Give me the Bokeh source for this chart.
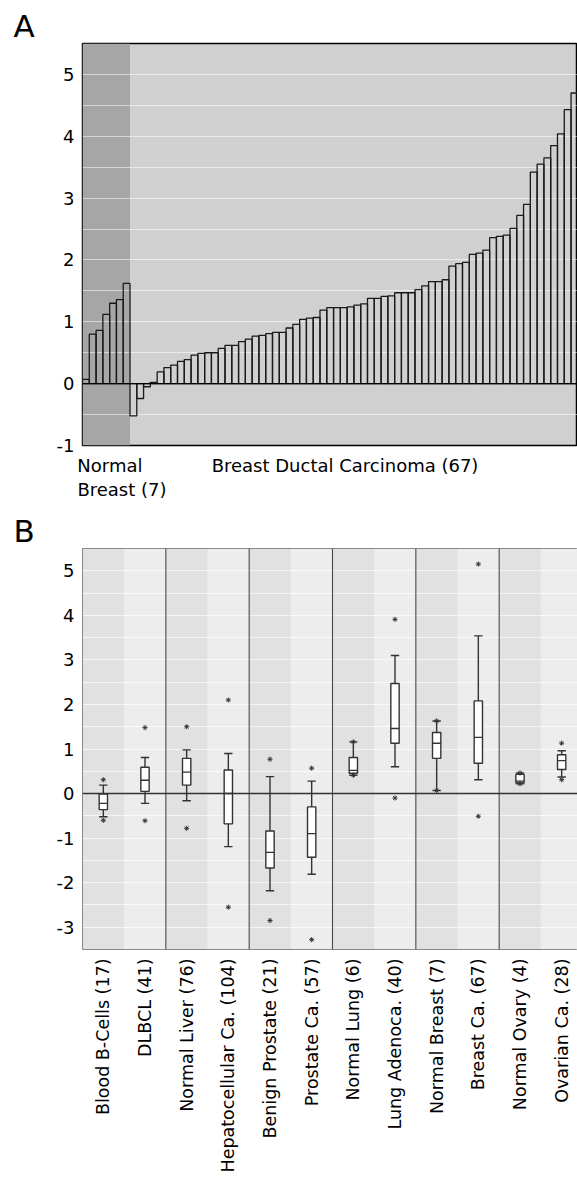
import numpy as np
from bokeh.plotting import figure
from bokeh.models import Range1d, FixedTicker, Span, Title, LinearAxis
from bokeh.layouts import column
from bokeh.embed import file_html
from bokeh.resources import INLINE

FONT = "DejaVu Sans"

# ---------------- data: panel A ----------------
normal_breast = [0.07, 0.80, 0.86, 1.12, 1.30, 1.36, 1.62]
ductal_carcinoma = [-0.52, -0.24, -0.05, 0.02, 0.19, 0.26, 0.30, 0.36, 0.39, 0.46,
                    0.49, 0.50, 0.50, 0.57, 0.62, 0.62, 0.68, 0.72, 0.77, 0.78,
                    0.81, 0.83, 0.83, 0.90, 0.96, 1.04, 1.06, 1.07, 1.19, 1.23,
                    1.23, 1.23, 1.24, 1.27, 1.29, 1.38, 1.38, 1.41, 1.42, 1.47,
                    1.47, 1.47, 1.52, 1.58, 1.65, 1.65, 1.68, 1.90, 1.94, 1.96,
                    2.09, 2.11, 2.16, 2.36, 2.38, 2.40, 2.51, 2.72, 2.90, 3.42,
                    3.55, 3.65, 3.85, 4.04, 4.43, 4.70, 5.15]
a_yticks = [-1, 0, 1, 2, 3, 4, 5]
a_group_line1 = ["Normal", "Breast Ductal Carcinoma (67)"]
a_group_line2 = ["Breast (7)"]

# ---------------- data: panel B ----------------
tissues = ["Blood B-Cells (17)", "DLBCL (41)", "Normal Liver (76)",
           "Hepatocellular Ca. (104)", "Benign Prostate (21)", "Prostate Ca. (57)",
           "Normal Lung (6)", "Lung Adenoca. (40)", "Normal Breast (7)",
           "Breast Ca. (67)", "Normal Ovary (4)", "Ovarian Ca. (28)"]
whisker_low = [-0.52, -0.22, -0.16, -1.19, -2.18, -1.81, 0.41, 0.60, 0.07, 0.31, 0.22, 0.37]
quart1 = [-0.36, 0.05, 0.19, -0.68, -1.67, -1.43, 0.455, 1.13, 0.79, 0.68, 0.24, 0.54]
median = [-0.22, 0.30, 0.48, 0.00, -1.32, -0.90, 0.52, 1.46, 1.13, 1.26, 0.28, 0.74]
quart3 = [-0.01, 0.59, 0.79, 0.53, -0.84, -0.30, 0.81, 2.47, 1.37, 2.08, 0.43, 0.87]
whisker_high = [0.19, 0.81, 0.98, 0.90, 0.38, 0.28, 1.16, 3.10, 1.63, 3.54, 0.46, 0.96]
outlier_high = [0.31, 1.48, 1.50, 2.10, 0.77, 0.57, 1.16, 3.91, 1.63, 5.15, 0.46, 1.13]
outlier_low = [-0.60, -0.61, -0.78, -2.55, -2.85, -3.28, 0.41, -0.10, 0.07, -0.51, 0.22, 0.31]
b_yticks = [-3, -2, -1, 0, 1, 2, 3, 4, 5]

# ---------------- layout constants (pixels) ----------------
FIG_W = 577
BORDER_L = 82
A_TOP, A_FRAME_H, A_BOT = 43, 402, 65
B_TOP, B_FRAME_H, B_BOT = 38, 401, 236
FRAME_W = FIG_W - BORDER_L
LETTER_X = 13


def style_yaxis(ax, ticks):
    ax.ticker = FixedTicker(ticks=ticks)
    ax.major_label_overrides = {t: str(t) for t in ticks}
    ax.axis_line_color = None
    ax.major_tick_line_color = None
    ax.minor_tick_line_color = None
    ax.major_tick_out = 0
    ax.major_tick_in = 0
    ax.major_label_standoff = 8
    ax.major_label_text_font = FONT
    ax.major_label_text_font_size = "18px"
    ax.major_label_text_color = "black"


def letter_title(p, text):
    p.title = Title(text=text, align="left", offset=LETTER_X - BORDER_L, standoff=0,
                    text_font=FONT, text_font_size="31px", text_font_style="normal",
                    text_color="black")


# ================= panel A =================
a_vals = normal_breast + ductal_carcinoma
a_x = list(range(len(a_vals)))
a_xr = Range1d(-0.5, 72.45)
a_yr = Range1d(-1, 5.5)

pA = figure(width=FIG_W, height=A_TOP + A_FRAME_H + A_BOT, x_range=a_xr, y_range=a_yr,
            output_backend="svg", toolbar_location=None,
            min_border_left=BORDER_L, min_border_right=0,
            min_border_top=A_TOP, min_border_bottom=A_BOT)
pA.background_fill_color = "#d0d0d0"
pA.border_fill_color = "white"
pA.outline_line_color = "black"
pA.outline_line_width = 1.5
letter_title(pA, "A")

# darker region behind the normal samples
pA.quad(left=[a_xr.start], right=[len(normal_breast) - 0.5], bottom=[a_yr.start], top=[a_yr.end],
        fill_color="#a6a6a6", line_color=None, level="image")

pA.xgrid.visible = False
pA.ygrid.ticker = FixedTicker(ticks=list(np.arange(-1, 5.51, 0.5)))
pA.ygrid.grid_line_color = "white"
pA.ygrid.grid_line_alpha = 0.55
pA.ygrid.grid_line_width = 1.2
style_yaxis(pA.yaxis[0], a_yticks)

pA.vbar(x=a_x, top=a_vals, bottom=0, width=1.0, fill_alpha=0,
        line_color="#1a1a1a", line_width=1.3)
pA.add_layout(Span(location=0, dimension="width", line_color="black", line_width=1.3))

# group labels under panel A, placed through two tick-label rows
a_ppx = FRAME_W / (a_xr.end - a_xr.start)


def a_center(left_px, text_w_px):
    return a_xr.start + (left_px + text_w_px / 2 - BORDER_L) / a_ppx


row1_pos = [a_center(76.7, 65.4), a_center(210.7, 267.6)]
row2_pos = [a_center(76.7, 89.5)]


def style_group_axis(ax, pos, texts, standoff):
    ax.ticker = FixedTicker(ticks=pos)
    ax.major_label_overrides = {p_: t for p_, t in zip(pos, texts)}
    ax.axis_line_color = None
    ax.major_tick_line_color = None
    ax.minor_tick_line_color = None
    ax.major_tick_out = 0
    ax.major_tick_in = 0
    ax.major_label_standoff = standoff
    ax.major_label_text_font = FONT
    ax.major_label_text_font_size = "18px"
    ax.major_label_text_color = "black"


style_group_axis(pA.xaxis[0], row1_pos, a_group_line1, 9)
ax2 = LinearAxis()
style_group_axis(ax2, row2_pos, a_group_line2, 0)
pA.add_layout(ax2, "below")

# ================= panel B =================
n = len(tissues)
b_xr = Range1d(0, 11.88)
b_yr = Range1d(-3.5, 5.5)
pB = figure(width=FIG_W, height=B_TOP + B_FRAME_H + B_BOT, x_range=b_xr, y_range=b_yr,
            output_backend="svg", toolbar_location=None,
            min_border_left=BORDER_L, min_border_right=0,
            min_border_top=B_TOP, min_border_bottom=B_BOT)
pB.background_fill_color = "#e2e2e2"
pB.border_fill_color = "white"
pB.outline_line_color = "#6a6a6a"
pB.outline_line_width = 1
letter_title(pB, "B")

lefts = list(range(n))
band_colors = ["#e1e1e1" if i % 2 == 0 else "#ededed" for i in range(n)]
pB.quad(left=lefts, right=[l + 1 for l in lefts], bottom=b_yr.start, top=b_yr.end,
        fill_color=band_colors, line_color=None, level="image")

pB.xgrid.visible = False
pB.ygrid.ticker = FixedTicker(ticks=list(np.arange(-3.5, 5.51, 0.5)))
pB.ygrid.grid_line_color = "white"
pB.ygrid.grid_line_alpha = 0.65
pB.ygrid.grid_line_width = 1.2
style_yaxis(pB.yaxis[0], b_yticks)

centers = [i + 0.5 for i in range(n)]
xb = pB.xaxis[0]
xb.ticker = FixedTicker(ticks=centers)
xb.major_label_overrides = {c: t for c, t in zip(centers, tissues)}
xb.major_label_orientation = np.pi / 2
xb.axis_line_color = None
xb.major_tick_line_color = None
xb.minor_tick_line_color = None
xb.major_tick_out = 0
xb.major_tick_in = 0
xb.major_label_standoff = 9
xb.major_label_text_font = FONT
xb.major_label_text_font_size = "17.5px"
xb.major_label_text_color = "black"

for sep in range(2, n, 2):
    pB.add_layout(Span(location=sep, dimension="height", line_color="#4a4a4a", line_width=1.1))
pB.add_layout(Span(location=0, dimension="width", line_color="#333333", line_width=1.4))

BOXW = 0.2
LC = "#333333"
pB.segment(x0=centers, y0=whisker_low, x1=centers, y1=whisker_high, line_color=LC, line_width=1.4)
pB.segment(x0=[c - BOXW / 2 for c in centers], y0=whisker_low,
           x1=[c + BOXW / 2 for c in centers], y1=whisker_low, line_color=LC, line_width=1.4)
pB.segment(x0=[c - BOXW / 2 for c in centers], y0=whisker_high,
           x1=[c + BOXW / 2 for c in centers], y1=whisker_high, line_color=LC, line_width=1.4)
pB.quad(left=[c - BOXW / 2 for c in centers], right=[c + BOXW / 2 for c in centers],
        bottom=quart1, top=quart3, fill_color="white", line_color=LC, line_width=1.4)
pB.segment(x0=[c - BOXW / 2 for c in centers], y0=median,
           x1=[c + BOXW / 2 for c in centers], y1=median, line_color=LC, line_width=1.4)
pB.scatter(x=centers, y=outlier_high, marker="asterisk", size=5, line_color=LC, line_width=1)
pB.scatter(x=centers, y=outlier_low, marker="asterisk", size=5, line_color=LC, line_width=1)

layout = column(pA, pB)
open("out.html", "w").write(file_html(layout, INLINE))
